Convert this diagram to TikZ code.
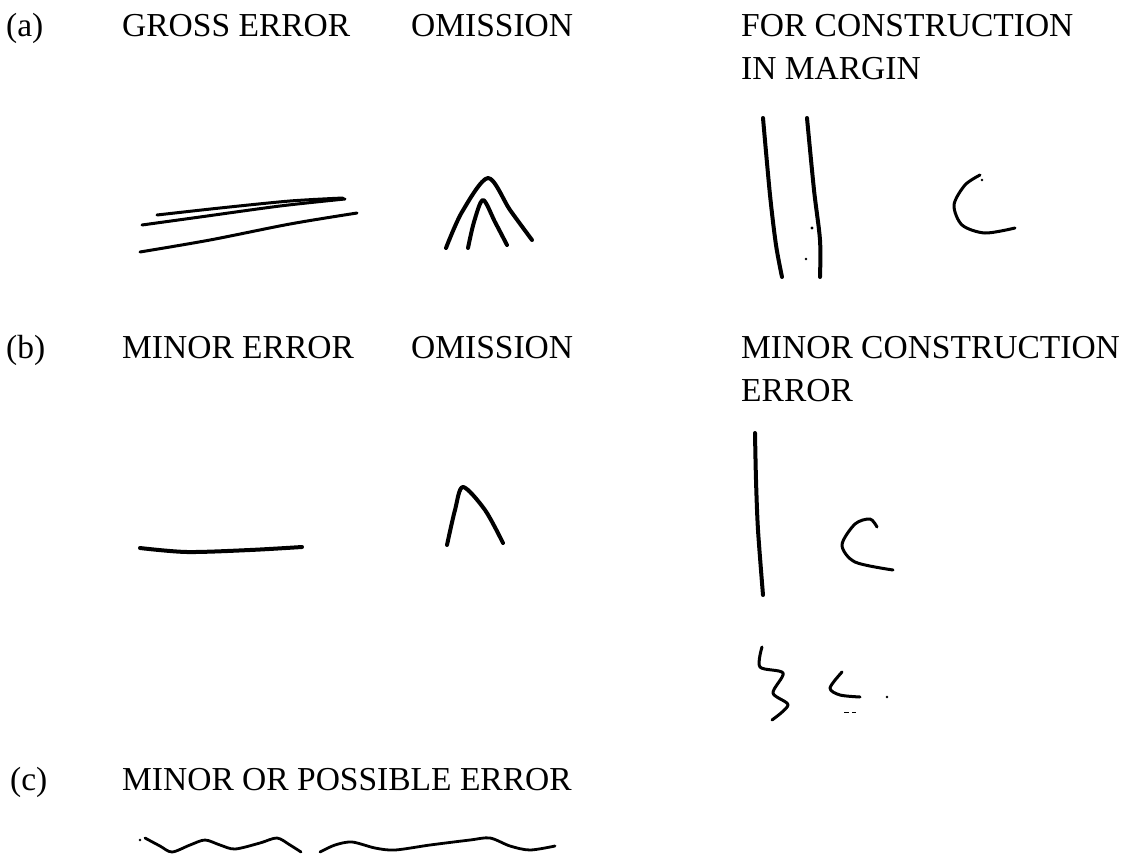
\documentclass[tikz,border=0pt]{standalone}
\usepackage{fontspec}
\setmainfont{Liberation Serif}
\begin{document}
\begin{tikzpicture}[x=1pt,y=-1pt,
  lbl/.style={anchor=base west,inner sep=0pt,font=\fontsize{33.5}{40}\selectfont},
  stroke/.style={line width=4pt,line cap=round,line join=round},
  thin stroke/.style={line width=3pt,line cap=round,line join=round}]
\useasboundingbox[fill=white] (0,0) rectangle (1138,854);
% row (a)
\node[lbl] (la) at (6,36) {(a)};
\node[lbl] (gross) at (122,36) {GROSS ERROR};
\node[lbl] (oma) at (411,36) {OMISSION};
\node[lbl] (fc1) at (741,36) {FOR CONSTRUCTION};
\node[lbl] (fc2) at (741,79) {IN MARGIN};
% gross error strokes
\draw[thin stroke] plot[smooth] coordinates {(157,215) (220,208) (290,201) (343,198)};
\draw[thin stroke] plot[smooth] coordinates {(142,225) (200,217) (280,206) (345,199)};
\draw[thin stroke] plot[smooth] coordinates {(140,252) (210,240) (290,224) (357,213)};
% omission double caret
\draw[stroke] plot[smooth] coordinates {(446,248) (462,212) (488,178) (510,210) (532,240)};
\draw[stroke] plot[smooth] coordinates {(468,248) (474,222) (483,200) (495,222) (507,245)};
% construction double line
\draw[stroke] plot[smooth] coordinates {(763,118) (770,195) (776,245) (782,277)};
\draw[stroke] plot[smooth] coordinates {(807,118) (814,190) (820,240) (820,277)};
\fill (812,228) circle (1.6);
\fill (806,259) circle (1.4);
\draw[thin stroke] plot[smooth] coordinates {(980,175) (965,185) (954,205) (962,225) (985,233) (1015,228)};
\fill (982,180) circle (1.4);
% row (b)
\node[lbl] (lb) at (6,358) {(b)};
\node[lbl] (minor) at (122,358) {MINOR ERROR};
\node[lbl] (omb) at (411,358) {OMISSION};
\node[lbl] (mc1) at (741,358) {MINOR CONSTRUCTION};
\node[lbl] (mc2) at (741,401) {ERROR};
\draw[stroke] plot[smooth] coordinates {(140,548) (187,552) (250,550) (302,547)};
\draw[stroke] plot[smooth] coordinates {(447,545) (455,510) (463,487) (485,510) (503,543)};
\draw[stroke] plot[smooth] coordinates {(755,433) (756,480) (758,530) (763,595)};
\draw[thin stroke] plot[smooth] coordinates {(877,527) (870,519) (855,524) (842,545) (855,562) (893,570)};
% squiggle and small c
\draw[thin stroke] plot[smooth] coordinates {(762,647) (760,667) (783,673) (773,693) (788,705) (772,720)};
\draw[thin stroke] plot[smooth] coordinates {(842,672) (830,688) (840,695) (860,697)};
\fill (887,697) circle (1.4);
\draw[line width=0.8pt] (844,712) -- (849,712) (852,712) -- (856,712);
% row (c)
\node[lbl] (lc) at (10,790) {(c)};
\node[lbl] (poss) at (122,790) {MINOR OR POSSIBLE ERROR};
\draw[line width=2.8pt,line cap=round,line join=round] plot[smooth] coordinates {(145,838) (160,846) (172,852) (190,845) (205,840) (220,845) (235,849) (260,843) (277,838) (290,845) (301,852)};
\draw[line width=2.8pt,line cap=round,line join=round] plot[smooth] coordinates {(320,852) (335,845) (352,842) (375,848) (395,850) (430,845) (470,840) (490,838) (510,846) (530,850) (555,846)};
\fill (140,840) circle (1.3);
\end{tikzpicture}
\end{document}
